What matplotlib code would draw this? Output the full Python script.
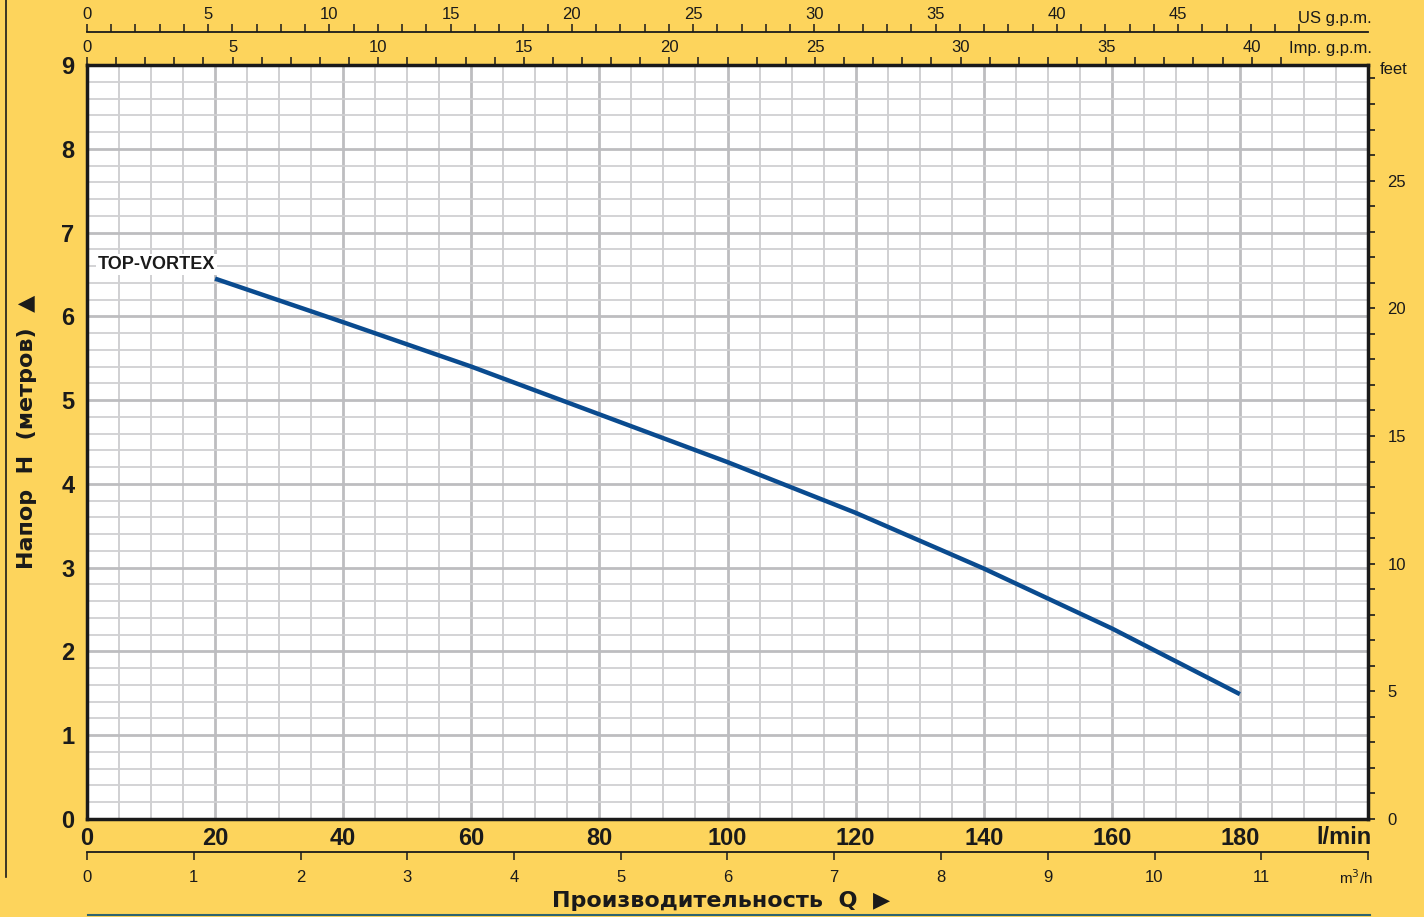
import matplotlib
matplotlib.use("Agg")
import matplotlib.pyplot as plt
from matplotlib.lines import Line2D
import numpy as np

# ---- data ----
flow_lmin = [20, 40, 60, 80, 100, 120, 140, 160, 180]
head_m = [6.45, 5.93, 5.40, 4.83, 4.26, 3.655, 2.99, 2.275, 1.49]
series_name = "TOP-VORTEX"
x_ticks = [0, 20, 40, 60, 80, 100, 120, 140, 160, 180]
y_ticks = [0, 1, 2, 3, 4, 5, 6, 7, 8, 9]
feet_ticks = [0, 5, 10, 15, 20, 25]
us_ticks = [0, 5, 10, 15, 20, 25, 30, 35, 40, 45]
imp_ticks = [0, 5, 10, 15, 20, 25, 30, 35, 40]
m3h_ticks = [0, 1, 2, 3, 4, 5, 6, 7, 8, 9, 10, 11, 12]

BG = "#FDD45C"
LINE = "#0A4B8F"
NARROW = ["Liberation Sans Narrow", "Liberation Sans", "DejaVu Sans"]

plt.rcParams['font.family'] = NARROW

W, H = 1424, 917
fig = plt.figure(figsize=(W / 100, H / 100), dpi=100, facecolor=BG)

L, R, T, B = 87, 1368, 65, 819
ax = fig.add_axes([L / W, 1 - B / H, (R - L) / W, (B - T) / H])
ax.set_facecolor("white")
ax.set_xlim(0, 200)
ax.set_ylim(0, 9)

# grid
for xv in np.arange(5, 200, 5):
    major = (xv % 20 == 0)
    ax.axvline(xv, color="#BDBDC0" if major else "#CDCDCF", lw=2.0 if major else 1.3, zorder=1)
for yv in np.arange(0.2, 9, 0.2):
    major = abs(yv - round(yv)) < 1e-6
    ax.axhline(yv, color="#BDBDC0" if major else "#D0D0D2", lw=2.0 if major else 1.3, zorder=1)

for s in ax.spines.values():
    s.set_linewidth(2.5)
    s.set_color("#1A1A1A")
    s.set_zorder(5)

ax.plot(flow_lmin, head_m, color=LINE, lw=3.2, solid_capstyle="butt", zorder=3)
ax.text(1.7, 6.62, series_name, fontsize=13, fontweight="bold", color="#1A1A1A",
        family=NARROW, va="center", ha="left", zorder=4,
        bbox=dict(facecolor="white", edgecolor="none", pad=1.5))

ax.set_xticks(x_ticks)
ax.set_xticklabels([str(v) for v in x_ticks])
ax.set_yticks(y_ticks)
ax.set_yticklabels([str(v) for v in y_ticks])
ax.tick_params(axis="both", length=0, labelsize=17, colors="#1A1A1A")
ax.tick_params(axis="x", pad=6)
ax.tick_params(axis="y", pad=9)
for lab in ax.get_xticklabels() + ax.get_yticklabels():
    lab.set_fontweight("bold")

fig.text(1372 / W, 1 - 838 / H, "l/min", ha="right", va="center", fontsize=17,
         fontweight="bold", color="#1A1A1A")

# right feet axis
M2FT = 3.28084
axr = ax.secondary_yaxis("right", functions=(lambda m: m * M2FT, lambda f: f / M2FT))
axr.set_yticks(feet_ticks)
axr.set_yticks(np.arange(0, 30, 1), minor=True)
axr.tick_params(axis="y", which="both", length=5, width=1.2, direction="out",
                labelsize=12, pad=9, colors="#1A1A1A")
axr.spines["right"].set_visible(False)
fig.text(1380 / W, 1 - 70 / H, "feet", ha="left", va="center", fontsize=12, color="#1A1A1A")

# top imp gpm axis
IMP = 4.54609
axi = ax.secondary_xaxis(1.0, functions=(lambda q: q / IMP, lambda g: g * IMP))
axi.set_xticks(imp_ticks)
axi.set_xticks(np.arange(0, 42, 1), minor=True)
axi.tick_params(axis="x", which="both", length=6, width=1.1, direction="out",
                labelsize=12, pad=1, colors="#1A1A1A")
axi.spines["top"].set_visible(False)
fig.text(1372 / W, 1 - 48 / H, "Imp. g.p.m.", ha="right", va="center", fontsize=12, color="#1A1A1A")

# top us gpm axis
US = 3.78541
axu = ax.secondary_xaxis(1 + (T - 32) / (B - T),
                         functions=(lambda q: q / US, lambda g: g * US))
axu.set_xticks(us_ticks)
axu.set_xticks(np.arange(0, 51, 1), minor=True)
axu.tick_params(axis="x", which="both", length=6, width=1.1, direction="out",
                labelsize=12, pad=1, colors="#1A1A1A")
axu.spines["top"].set_linewidth(1.3)
axu.spines["top"].set_color("#1A1A1A")
fig.text(1372 / W, 1 - 18 / H, "US g.p.m.", ha="right", va="center", fontsize=12, color="#1A1A1A")

# bottom m3/h axis
M3H = 1000 / 60
axm = ax.secondary_xaxis(-(852 - B) / (B - T), functions=(lambda q: q / M3H, lambda v: v * M3H))
axm.set_xticks(m3h_ticks)
axm.set_xticklabels([str(v) for v in m3h_ticks[:-1]] + [""])
axm.tick_params(axis="x", which="both", length=6, width=1.1, direction="out",
                labelsize=12, pad=7, colors="#1A1A1A")
axm.spines["bottom"].set_linewidth(1.3)
axm.spines["bottom"].set_color("#1A1A1A")
fig.text(1373 / W, 1 - 878 / H, "m$^3$/h", ha="right", va="center", fontsize=11, color="#1A1A1A")

# axis titles
fig.text(27 / W, 1 - 432 / H, "Напор  H  (метров)  ▲", rotation=90, ha="center", va="center",
         fontsize=16, fontweight="bold", color="#1A1A1A", family=["DejaVu Sans"])
fig.text(721 / W, 1 - 901 / H, "Производительность  Q  ▶", ha="center", va="center",
         fontsize=16, fontweight="bold", color="#1A1A1A", family=["DejaVu Sans"])

# decorative lines
fig.add_artist(Line2D([6 / W, 6 / W], [1 - 0 / H, 1 - 877 / H], color="#1A1A1A", lw=1.2,
                      transform=fig.transFigure))
fig.add_artist(Line2D([88 / W, 1370 / W], [1 - 915 / H, 1 - 915 / H], color="#2E6470", lw=1.5,
                      transform=fig.transFigure))

fig.savefig("out.png", dpi=100, facecolor=BG)
